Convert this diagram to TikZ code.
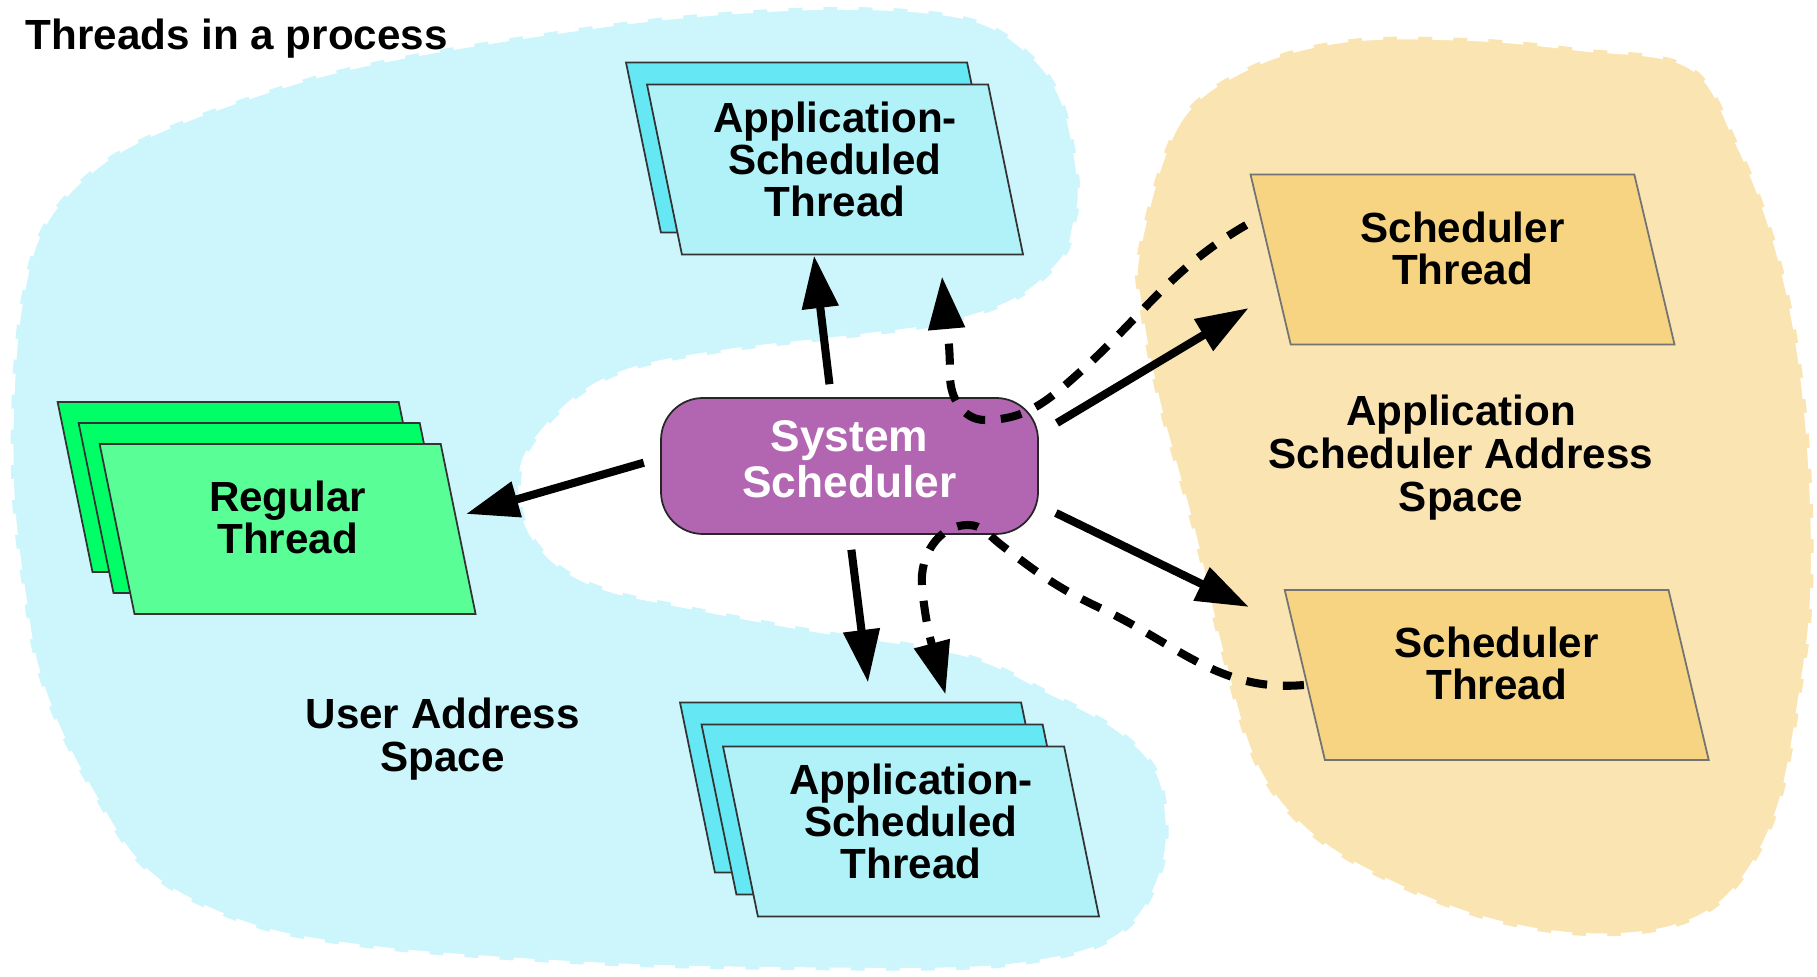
\documentclass[tikz,border=0pt]{standalone}
\usepackage{fontspec}
\setmainfont{Liberation Sans}
\usetikzlibrary{shapes.geometric,arrows.meta}

\definecolor{userspace}{RGB}{204,245,252}
\definecolor{appspace}{RGB}{250,229,178}
\definecolor{cyanback}{RGB}{102,232,244}
\definecolor{cyanfront}{RGB}{176,242,248}
\definecolor{greenback}{RGB}{0,255,102}
\definecolor{greenfront}{RGB}{89,255,150}
\definecolor{schedfill}{RGB}{246,212,130}
\definecolor{sysfill}{RGB}{178,102,178}

\tikzset{
  space/.style={draw=white, line width=1.6pt, dash pattern=on 6pt off 4pt},
  thread/.style={trapezium, trapezium left angle=101.6, trapezium right angle=78.4,
    trapezium stretches body, minimum width=3.76cm, inner sep=0pt,
    text height=24.2pt, text depth=24.2pt,
    draw=black!80, line width=0.5pt, align=center,
    font=\bfseries\fontsize{12}{12}\selectfont},
  threelines/.style={text height=37.6pt, text depth=10.8pt},
  twolines/.style={text height=31.3pt, text depth=17.1pt},
  schedthread/.style={thread, twolines, trapezium left angle=103.3,
    trapezium right angle=76.7, minimum width=4.24cm, draw=black!55, fill=schedfill},
  sysbox/.style={rectangle, rounded corners=0.42cm, minimum width=3.77cm,
    minimum height=1.36cm, inner sep=0pt, fill=sysfill, draw=black!85,
    line width=0.5pt, text=white, align=center,
    font=\bfseries\fontsize{12.6}{13.3}\selectfont, text depth=4pt},
  lbl/.style={align=center, font=\bfseries\fontsize{12}{12.2}\selectfont},
  arr/.style={line width=2.3pt, -{Triangle[length=15pt,width=10pt]}},
  dasharr/.style={arr, dash pattern=on 6pt off 4.5pt},
}

\begin{document}
\begin{tikzpicture}
  \useasboundingbox (0,0) rectangle (18.17,9.76);

  % address spaces
  \filldraw[space, fill=userspace] plot[smooth cycle, tension=0.6] coordinates {
    (10.63,7.16) (10.17,6.76) (9.43,6.51) (8.50,6.38) (7.27,6.24) (6.33,6.06)
    (5.75,5.76) (5.30,5.26) (5.21,4.86) (5.30,4.46) (5.60,4.11) (6.06,3.88)
    (6.73,3.73) (8.07,3.48) (9.63,3.23) (10.53,2.83) (11.16,2.49) (11.56,2.09)
    (11.68,1.59) (11.64,1.09) (11.40,0.59) (11.00,0.29) (10.36,0.13) (9.57,0.06)
    (7.97,0.06) (6.38,0.09) (4.78,0.18) (3.59,0.29) (2.63,0.46) (1.83,0.79)
    (1.35,1.16) (0.96,1.76) (0.60,2.43) (0.36,3.09) (0.24,3.76) (0.12,4.76)
    (0.12,5.86) (0.21,6.78) (0.42,7.49) (0.88,8.03) (1.53,8.43) (2.75,8.88)
    (3.83,9.16) (5.51,9.44) (7.00,9.62) (8.50,9.69) (9.67,9.59) (10.27,9.26)
    (10.63,8.76) (10.80,7.93) (10.75,7.49)};
  \filldraw[space, fill=appspace] plot[smooth cycle, tension=0.6] coordinates {
    (11.38,7.27) (11.77,8.52) (12.46,9.08) (13.43,9.36) (14.66,9.38) (15.78,9.28)
    (16.90,9.10) (17.38,8.33) (17.74,7.40) (17.98,6.34) (18.11,5.09) (18.13,3.85)
    (18.03,2.92) (17.79,1.67) (17.35,0.86) (16.76,0.49) (15.88,0.40) (14.90,0.55)
    (13.92,0.92) (13.09,1.42) (12.55,2.11) (12.21,3.23) (11.92,4.47) (11.58,5.72)
    (11.40,6.65)};

  \node[lbl, anchor=base west, inner sep=0pt] (title) at (0.25,9.26) {Threads in a process};

  % threads
  \node[thread, fill=cyanback] (appA2) at (8.14,8.285) {};
  \node[thread, threelines, fill=cyanfront] (appA) at (8.35,8.065) {Application-\\Scheduled\\Thread};

  \node[thread, fill=greenback] (reg3) at (2.456,4.89) {};
  \node[thread, fill=greenback] (reg2) at (2.666,4.68) {};
  \node[thread, twolines, fill=greenfront] (reg) at (2.876,4.47) {Regular\\Thread};

  \node[thread, fill=cyanback] (appB3) at (8.68,1.885) {};
  \node[thread, fill=cyanback] (appB2) at (8.895,1.665) {};
  \node[thread, threelines, fill=cyanfront] (appB) at (9.11,1.445) {Application-\\Scheduled\\Thread};

  \node[schedthread] (schedA) at (14.625,7.165) {Scheduler\\Thread};
  \node[schedthread] (schedB) at (14.967,3.01) {Scheduler\\Thread};

  \node[sysbox] (sys) at (8.495,5.10) {System\\Scheduler};

  \node[lbl] (user) at (4.427,2.37) {User Address\\Space};
  \node[lbl] (appsp) at (14.61,5.183) {Application\\Scheduler Address\\Space};

  % solid arrows
  \draw[arr, shorten <=1.3mm] ([xshift=-1.85mm]sys.north) -- ([xshift=-2.1mm]appA.south);
  \draw[arr, shorten <=1.7mm] ([yshift=0.8mm]sys.west) -- ([shift={(0.7mm,1.5mm)}]reg.east);
  \draw[arr, shorten <=1.5mm] (sys.south) -- ([shift={(-4.3mm,6.3mm)}]appB.north);
  \draw[arr] ([shift={(1.8mm,4.3mm)}]sys.east) -- ([shift={(-2.1mm,-4.85mm)}]schedA.west);
  \draw[arr] ([shift={(1.7mm,-4.7mm)}]sys.east) -- ([shift={(-5.5mm,6.8mm)}]schedB.west);

  % dashed arrows
  \draw[dasharr] ([shift={(-2.35mm,3.45mm)}]schedA.west) to[out=210,in=42] (10.8,6.04)
    to[out=222,in=0] (9.85,5.56) to[out=180,in=-90] (9.5,6.0)
    to[out=90,in=-85] ([shift={(10.7mm,-2.1mm)}]appA.south);
  \draw[dasharr] ([yshift=-1mm]schedB.west) to[out=185,in=-25] (11.0,3.68)
    to[out=155,in=-38] (10.0,4.32) to[out=142,in=0] (9.68,4.51)
    to[out=180,in=95] (9.22,3.9) to[out=-85,in=105] ([shift={(3.45mm,5.1mm)}]appB.north);
\end{tikzpicture}
\end{document}
